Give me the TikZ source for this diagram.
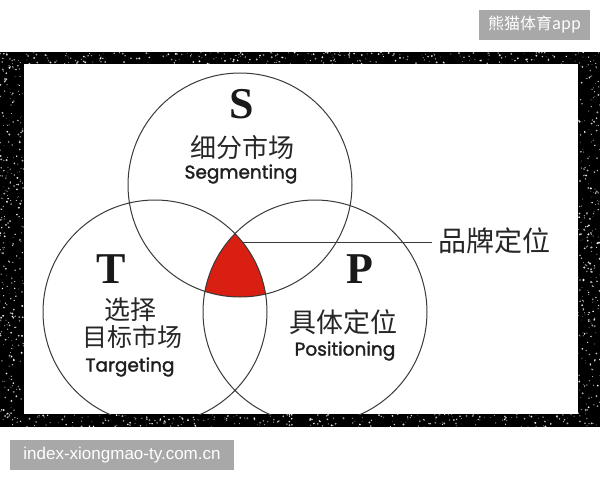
\documentclass[tikz,border=0pt]{standalone}
\usepackage{fontspec}
\newfontfamily\cjk{Noto Sans CJK SC}
\newfontfamily\pop[FakeBold=1.6]{Poppins}
\newfontfamily\tms{Liberation Serif}
\usetikzlibrary{calc}
\definecolor{venred}{HTML}{D91E12}
\definecolor{lineg}{HTML}{3A3A3A}
\definecolor{tagg}{HTML}{A8A8A8}
\tikzset{
  ring/.style={draw=lineg,line width=1pt},
  bigletter/.style={inner sep=0pt,font=\tms\bfseries\fontsize{44}{44}\selectfont,text=black!90},
  cn/.style={inner sep=0pt,text=black!85},
  en/.style={inner sep=0pt,text=black!88,font=\pop\fontsize{18.5}{18.5}\selectfont},
  tag/.style={fill=tagg,text=white,inner sep=0pt,font=\cjk\fontsize{16}{16}\selectfont},
  star/.style={fill=white}
}
\begin{document}
\begin{tikzpicture}[x=1pt,y=-1pt]
\useasboundingbox (0,0) rectangle (600,480);
\fill[white] (0,0) rectangle (600,480);
% black starry band
\fill[black] (0,52) rectangle (600,427);
\pgfmathsetseed{7}
\foreach \i in {1,...,280}{
  \pgfmathsetmacro\xx{rnd*600}\pgfmathsetmacro\yy{52+rnd*12}\pgfmathsetmacro\rr{0.3+rnd*0.8}
  \fill[star,opacity=0.5+rnd*0.5] (\xx,\yy) circle (\rr);}
\foreach \i in {1,...,280}{
  \pgfmathsetmacro\xx{rnd*600}\pgfmathsetmacro\yy{414+rnd*13}\pgfmathsetmacro\rr{0.3+rnd*0.8}
  \fill[star,opacity=0.5+rnd*0.5] (\xx,\yy) circle (\rr);}
\foreach \i in {1,...,280}{
  \pgfmathsetmacro\xx{rnd*24}\pgfmathsetmacro\yy{64+rnd*350}\pgfmathsetmacro\rr{0.3+rnd*0.8}
  \fill[star,opacity=0.5+rnd*0.5] (\xx,\yy) circle (\rr);}
\foreach \i in {1,...,260}{
  \pgfmathsetmacro\xx{578+rnd*22}\pgfmathsetmacro\yy{64+rnd*350}\pgfmathsetmacro\rr{0.3+rnd*0.8}
  \fill[star,opacity=0.5+rnd*0.5] (\xx,\yy) circle (\rr);}
% white panel
\fill[white] (24,64) rectangle (578,414);
% venn
\coordinate (cS) at (240,185);
\coordinate (cT) at (155,312);
\coordinate (cP) at (315,312);
\begin{scope}
  \clip (cS) circle (112);
  \clip (cT) circle (112);
  \fill[venred] (cP) circle (112);
\end{scope}
\begin{scope}
  \clip (24,64) rectangle (578,414);
  \draw[ring] (cS) circle (112);
  \draw[ring] (cT) circle (112);
  \draw[ring] (cP) circle (112);
\end{scope}
% labels S
\node[bigletter] (S) at (242,104) {S};
\node[cn,font=\cjk\fontsize{26}{26}\selectfont] (Scn) at (242,148) {细分市场};
\node[en] (Sen) at (241,174) {Segmenting};
% T
\node[bigletter] (T) at (111,269) {T};
\node[cn,font=\cjk\fontsize{26}{26}\selectfont] (Tcn1) at (130,310) {选择};
\node[cn,font=\cjk\fontsize{25}{25}\selectfont] (Tcn2) at (132,337) {目标市场};
\node[en] (Ten) at (130,367) {Targeting};
% P
\node[bigletter] (P) at (360,269) {P};
\node[cn,font=\cjk\fontsize{27}{27}\selectfont] (Pcn) at (343,322) {具体定位};
\node[en] (Pen) at (345,351) {Positioning};
% brand positioning
\coordinate (bstart) at (242.4,242);
\coordinate (bend) at (432,242);
\node[cn,anchor=west,font=\cjk\fontsize{28}{28}\selectfont] (brand) at (438,241) {品牌定位};
\draw[lineg,line width=1pt] (bstart) -- (bend);
% tags
\node[tag,minimum width=111pt,minimum height=30pt] (tag1) at (534.5,25) {熊猫体育app};
\node[tag,minimum width=224pt,minimum height=30pt,font=\fontspec{Liberation Sans}\fontsize{17}{17}\selectfont] (tag2) at (122,455) {index-xiongmao-ty.com.cn};
\end{tikzpicture}
\end{document}
